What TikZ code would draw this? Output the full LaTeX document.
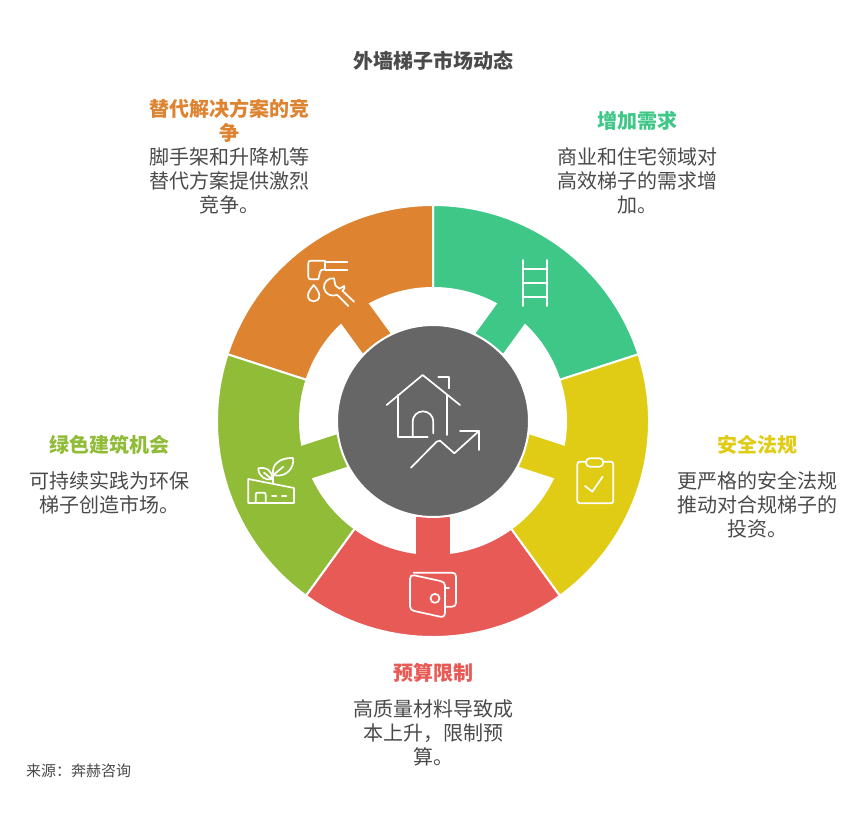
\documentclass[tikz,border=0pt]{standalone}
\usepackage{fontspec}
\setmainfont{Noto Sans CJK SC}
\definecolor{cOrange}{HTML}{DE8431}
\definecolor{cGreen}{HTML}{3EC787}
\definecolor{cYellow}{HTML}{E0CB15}
\definecolor{cRed}{HTML}{E85A55}
\definecolor{cLime}{HTML}{90BC38}
\definecolor{cGrey}{HTML}{666666}
\definecolor{cText}{HTML}{4A4A4A}
\tikzset{
  headtext/.style={font=\fontsize{20}{24}\selectfont\bfseries,align=center,inner sep=0pt},
  bodytext/.style={font=\fontsize{20}{24}\selectfont,align=center,inner sep=0pt,text=cText},
  iconline/.style={draw=white,line width=1.7pt,line join=round,line cap=round,fill=none},
  seg/.style={draw=white,line width=2pt,line join=miter}
}
\newcommand{\segment}[2]{% colour, end angle (sector spans 72 degrees from it)
  \path[seg,fill=#1] (#2:216pt) arc[start angle=#2,end angle=#2+72,radius=216pt]
    -- (#2+72:133pt) arc[start angle=#2+72,end angle=#2,radius=133pt] -- cycle;
  \fill[#1,rotate=#2+36] (96,-17) rectangle (140,17);
}
\begin{document}
\begin{tikzpicture}[x=1pt,y=-1pt]
\useasboundingbox (0,0) rectangle (866,818);
\fill[white] (0,0) rectangle (866,818);
\begin{scope}[shift={(433,421)},x=1pt,y=1pt]
  \segment{cGreen}{18}
  \segment{cOrange}{90}
  \segment{cLime}{162}
  \segment{cRed}{234}
  \segment{cYellow}{306}
  \fill[cGrey,draw=white,line width=2pt] (0,0) circle[radius=96pt];
\end{scope}
% centre icon
\begin{scope}[shift={(335,325)},x=.3333pt,y=-.3333pt,iconline]
  \draw (155,240) -- (263,150) -- (375,240);
  \draw (190,210) -- (190,335) -- (278,335);
  \draw (335,210) -- (335,330);
  \draw (233,335) -- (233,290) arc[start angle=180,end angle=0,radius=10.33pt] -- (295,325);
  \draw (310,155) -- (342,155) -- (342,190);
  \draw (228,428) -- (305,350) -- (315,347) -- (358,385) -- (432,318);
  \draw (375,318) -- (432,318) -- (432,375);
\end{scope}
% ladder
\begin{scope}[iconline]
  \draw (522.7,260) -- (522.7,306);
  \draw (547.3,260) -- (547.3,306);
  \draw (522.7,269.3) -- (547.3,269.3);
  \draw (522.7,283.3) -- (547.3,283.3);
  \draw (522.7,297.3) -- (547.3,297.3);
\end{scope}
% faucet, drop and wrench
\begin{scope}[shift={(300,250)},x=.3333pt,y=-.3333pt,iconline]
  \draw (75,32) -- (33,32) .. controls (27,32) and (25,35) .. (25,40) -- (25,80) .. controls (25,85) and (27,88) .. (33,88)
     -- (55,88) -- (60,66) .. controls (61,60) and (66,58) .. (75,58) -- cycle;
  \draw (75,35) -- (142,35);
  \draw (75,60) -- (142,60);
  \draw (41,105) .. controls (33,116) and (24,125) .. (24,137) .. controls (24,160) and (58,160) .. (58,137) .. controls (58,125) and (49,116) .. (41,105) -- cycle;
  \draw (102,85) .. controls (84,82) and (70,98) .. (72,114) .. controls (74,130) and (92,142) .. (112,135) -- (145,168);
  \draw (162,155) -- (127,122) .. controls (132,118) and (136,114) .. (133,108) -- (118,116) -- (106,106) -- (102,85);
\end{scope}
% green building
\begin{scope}[shift={(240,450)},x=.3333pt,y=-.3333pt,iconline]
  \draw (25,87) -- (162,114) -- (162,159) -- (25,159) -- cycle;
  \draw (47,159) -- (47,134) .. controls (47,129) and (50,128) .. (54,128) -- (70,128) .. controls (74,128) and (77,129) .. (77,134) -- (77,159);
  \draw (96,137) -- (109,137);
  \draw (126,137) -- (139,137);
  \draw (100,100) -- (100,75);
  \draw (100,75) .. controls (92,45) and (120,22) .. (159,24) .. controls (165,55) and (135,85) .. (100,75) -- cycle;
  \draw (100,75) -- (130,50);
  \draw (95,88) .. controls (78,92) and (55,80) .. (55,55) .. controls (78,50) and (100,62) .. (95,88) -- cycle;
  \draw (72,68) -- (94,86);
\end{scope}
% wallet
\begin{scope}[shift={(403,565)},x=.3333pt,y=-.3333pt,iconline]
  \draw (32,23) -- (147,23) .. controls (155,23) and (159,27) .. (159,35) -- (159,113) .. controls (159,121) and (155,125) .. (147,125) -- (126,125);
  \draw (21,42) .. controls (21,33) and (26,29) .. (34,31) -- (112,48) .. controls (121,50) and (126,54) .. (126,62) -- (126,142)
     .. controls (126,152) and (121,157) .. (111,155) -- (34,138) .. controls (26,136) and (21,132) .. (21,124) -- cycle;
  \draw (96,100) circle[radius=4.5pt];
  \draw (126,70) -- (138,70);
\end{scope}
% clipboard
\begin{scope}[shift={(565,450)},x=.3333pt,y=-.3333pt,iconline]
  \draw (63,35) -- (45,35) .. controls (40,35) and (37,38) .. (37,43) -- (37,152) .. controls (37,157) and (40,160) .. (45,160)
     -- (137,160) .. controls (142,160) and (145,157) .. (145,152) -- (145,43) .. controls (145,38) and (142,35) .. (137,35) -- (115,35);
  \draw[rounded corners=3.8pt] (63,25) rectangle (115,50);
  \draw (60,108) -- (82,125) -- (113,80);
\end{scope}
% texts
\node[font=\fontsize{20}{24}\selectfont\bfseries,text=cText,inner sep=0pt] (title) at (433,61) {外墙梯子市场动态};
\node[headtext,text=cOrange] (h1) at (229,120.5) {替代解决方案的竞\\争};
\node[bodytext] (b1) at (229,181) {脚手架和升降机等\\替代方案提供激烈\\竞争。};
\node[headtext,text=cGreen] (h2) at (637,121) {增加需求};
\node[bodytext] (b2) at (637,181) {商业和住宅领域对\\高效梯子的需求增\\加。};
\node[headtext,text=cYellow] (h3) at (757,445) {安全法规};
\node[bodytext] (b3) at (757,505) {更严格的安全法规\\推动对合规梯子的\\投资。};
\node[headtext,text=cRed] (h4) at (433,673) {预算限制};
\node[bodytext] (b4) at (433,733) {高质量材料导致成\\本上升，限制预\\算。};
\node[headtext,text=cLime] (h5) at (109,445) {绿色建筑机会};
\node[bodytext] (b5) at (109,493) {可持续实践为环保\\梯子创造市场。};
\node[font=\fontsize{15}{18}\selectfont,text=cText,inner sep=0pt,anchor=west] (src) at (26,771) {来源：奔赫咨询};
\end{tikzpicture}
\end{document}
